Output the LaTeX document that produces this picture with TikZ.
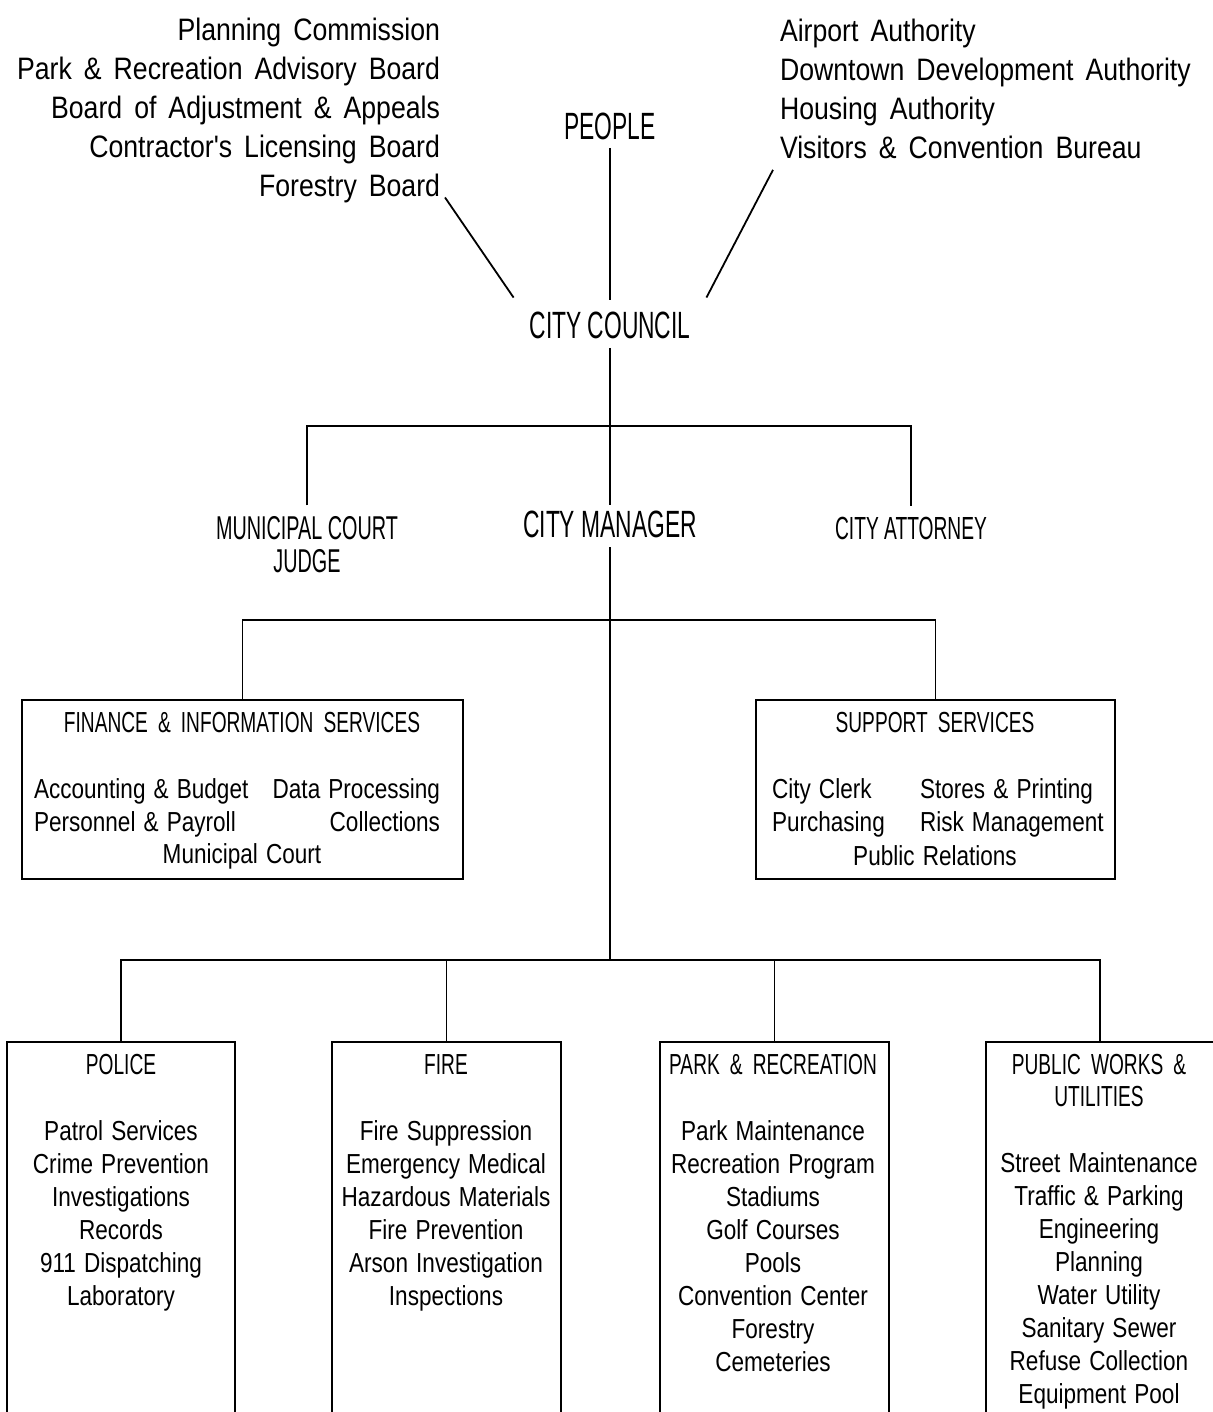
\documentclass[tikz,border=0pt]{standalone}
\usepackage{fontspec}
\newfontfamily\capf{Liberation Sans}[FakeStretch=0.6]
\newfontfamily\ttlf{Liberation Sans}[FakeStretch=0.66, WordSpace=1.9]
\newfontfamily\brdf{Liberation Sans}[FakeStretch=0.86]
\newfontfamily\txtf{Liberation Sans}[FakeStretch=0.82, WordSpace=1.3]
\newcommand\brdfont{\brdf\fontsize{31}{39}\selectfont\spaceskip 12pt\relax}
\usetikzlibrary{calc}
\begin{document}
\begin{tikzpicture}[x=1pt,y=-1pt,
  lbl/.style={inner sep=0pt, outer sep=0pt, text=black},
  bigcap/.style={lbl, font=\capf\fontsize{38}{38}\selectfont},
  capl/.style={lbl, font=\capf\fontsize{33}{33}\selectfont, align=center},
  ttl/.style={lbl, font=\ttlf\fontsize{29}{32}\selectfont, align=center},
  itm/.style={lbl, font=\txtf\fontsize{27.5}{33}\selectfont},
  brd/.style={lbl, font=\brdfont},
  wire/.style={line width=1.8pt},
  dept/.style={rectangle, inner sep=0pt, outer sep=0pt, minimum height=378pt},
  midbox/.style={rectangle, draw, line width=1.8pt, inner sep=0pt, outer sep=0pt, minimum height=179pt}]
\useasboundingbox (0,0) rectangle (1212,1412);

% ---- top ----
\node[brd, align=right, anchor=east] (boards) at (440,110) {Planning Commission\\Park \& Recreation Advisory Board\\Board of Adjustment \& Appeals\\Contractor's Licensing Board\\Forestry Board};
\node[brd, align=left, anchor=west] (auths) at (780,89) {Airport Authority\\Downtown Development Authority\\Housing Authority\\Visitors \& Convention Bureau};
\node[bigcap] (people) at (610,126) {PEOPLE};
\node[bigcap] (council) at (610,325) {CITY COUNCIL};

\draw[wire, shorten <=8.5pt, shorten >=11.5pt] (people.south) -- (council.north);
\draw[wire] ($(boards.south east)+(5,-5)$) -- ($(council.north west)+(-16,-14)$);
\draw[wire] ($(auths.south west)+(-7,11)$) -- ($(council.north east)+(16,-14)$);

% ---- second level ----
\node[capl] (judge) at (307,544.5) {MUNICIPAL COURT\\JUDGE};
\node[bigcap] (manager) at (610,524) {CITY MANAGER};
\node[capl, font=\capf\fontsize{32}{32}\selectfont] (attorney) at (911,528) {CITY ATTORNEY};
\coordinate (b1) at (610,426);
\draw[wire, shorten <=9.5pt, shorten >=5.5pt] (council.south) -- (manager.north);
\draw[wire, shorten <=11pt, shorten >=11pt] (judge.north) |- (b1) -| (attorney.north);

% ---- staff boxes ----
\node[midbox, minimum width=441pt] (fin) at (242.5,789.5) {};
\node[midbox, minimum width=359pt] (sup) at (935.5,789.5) {};
\coordinate (b2) at (610,620);
\coordinate (b3) at (610,960);
\draw[wire, shorten <=10pt] (manager.south) -- (b3);
\draw[wire] (fin.north) |- (b2) -| (sup.north);

\node[ttl] (finT) at (242,723) {FINANCE \& INFORMATION SERVICES};
\node[itm, align=left, anchor=north west] (finL) at (34,779) {Accounting \& Budget\\Personnel \& Payroll};
\node[itm, align=right, anchor=north east] (finR) at (440,779) {Data Processing\\Collections};
\node[itm] (finC) at (242,856) {Municipal Court};

\node[ttl] (supT) at (935,723) {SUPPORT SERVICES};
\node[itm, align=left, anchor=north west] (supL) at (772,779) {City Clerk\\Purchasing};
\node[itm, align=left, anchor=north west] (supR) at (920,779) {Stores \& Printing\\Risk Management};
\node[itm] (supC) at (935,856) {Public Relations};

% ---- departments ----
\node[dept, minimum width=228pt] (police) at (121,1231) {};
\node[dept, minimum width=229pt] (fire) at (446.5,1231) {};
\node[dept, minimum width=229pt] (park) at (774.5,1231) {};
\node[dept, minimum width=228pt] (pw) at (1100,1231) {};
\foreach \d in {police,fire,park,pw}{
  \draw[wire] (\d.south west) -- (\d.north west) -- (\d.north east) -- (\d.south east);
}
\draw[wire] (police.north) |- (b3) -| (pw.north);
\draw[wire] (fire.north) -- (fire.north |- b3);
\draw[wire] (park.north) -- (park.north |- b3);

\node[ttl] (policeT) at (121,1065) {POLICE};
\node[itm, align=center] (policeI) at (121,1216) {Patrol Services\\Crime Prevention\\Investigations\\Records\\911 Dispatching\\Laboratory};
\node[ttl] (fireT) at (446,1065) {FIRE};
\node[itm, align=center] (fireI) at (446,1216) {Fire Suppression\\Emergency Medical\\Hazardous Materials\\Fire Prevention\\Arson Investigation\\Inspections};
\node[ttl] (parkT) at (773,1065) {PARK \& RECREATION};
\node[itm, align=center] (parkI) at (773,1246) {Park Maintenance\\Recreation Program\\Stadiums\\Golf Courses\\Pools\\Convention Center\\Forestry\\Cemeteries};
\node[ttl] (pwT) at (1099,1081) {PUBLIC WORKS \&\\UTILITIES};
\node[itm, align=center] (pwI) at (1099,1281) {Street Maintenance\\Traffic \& Parking\\Engineering\\Planning\\Water Utility\\Sanitary Sewer\\Refuse Collection\\Equipment Pool};
\end{tikzpicture}
\end{document}
